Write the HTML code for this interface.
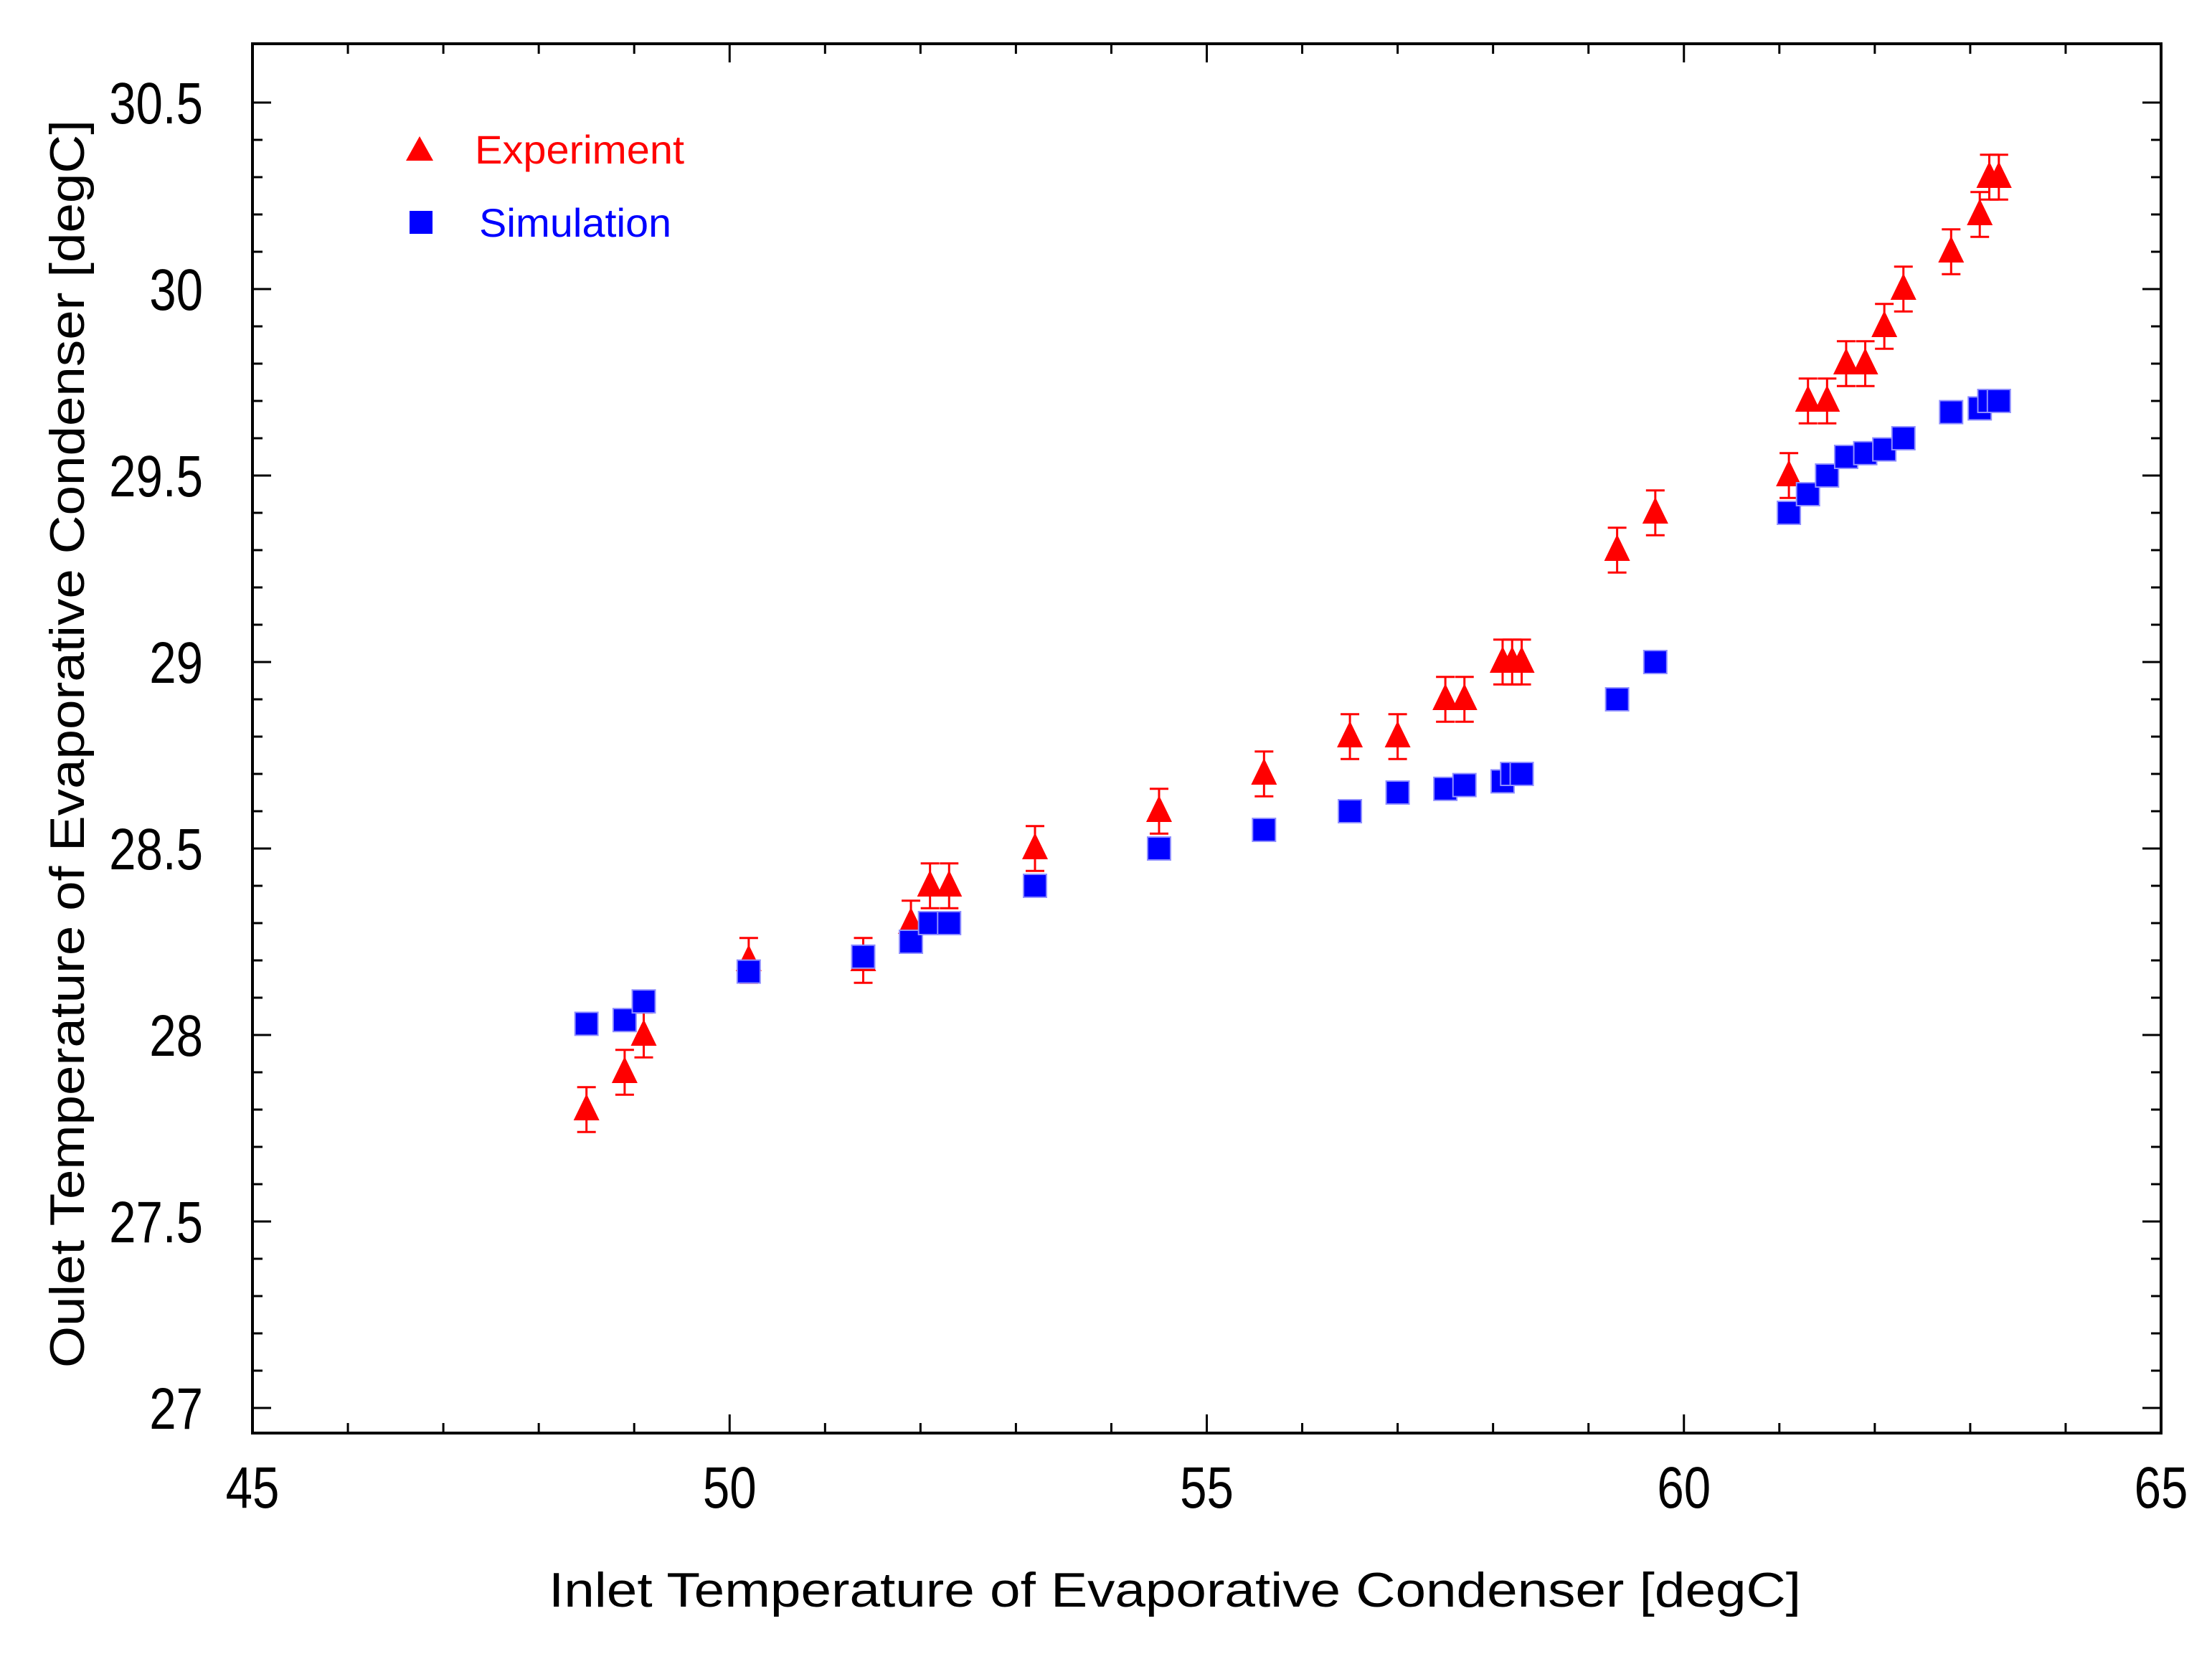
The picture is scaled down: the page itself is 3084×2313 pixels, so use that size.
<!DOCTYPE html>
<html><head><meta charset="utf-8"><style>
html,body{margin:0;padding:0;background:#fff;}
svg{display:block;font-family:"Liberation Sans",Arial,sans-serif;}
</style></head><body>
<svg id="chart" width="3084" height="2313" viewBox="0 0 3084 2313" xmlns="http://www.w3.org/2000/svg">
<rect x="0" y="0" width="3084" height="2313" fill="#fff"/>
<g id="ticks"></g>
<g id="marks"></g>
<rect x="352" y="61" width="2661" height="1937" fill="none" stroke="#000" stroke-width="4"/>
<g>
  <polygon points="585,190 604,224 566,224" fill="#ff0000"/>
  <text x="662" y="228" font-size="56" fill="#ff0000" textLength="292" lengthAdjust="spacingAndGlyphs">Experiment</text>
  <rect x="571" y="294" width="32" height="32" fill="#0000ff"/>
  <text x="668" y="330" font-size="56" fill="#0000ff" textLength="268" lengthAdjust="spacingAndGlyphs">Simulation</text>
</g>
<text x="1638" y="2240" font-size="68" text-anchor="middle" textLength="1746" lengthAdjust="spacingAndGlyphs">Inlet Temperature of Evaporative Condenser [degC]</text>
<text transform="translate(117,1037) rotate(-90)" font-size="68" text-anchor="middle" textLength="1740" lengthAdjust="spacingAndGlyphs">Oulet Temperature of Evaporative Condenser [degC]</text>
</svg>
<script>
const xTickLabels = ["45","50","55","60","65"];
const xTickValues = [45,50,55,60,65];
const yTickLabels = ["27","27.5","28","28.5","29","29.5","30","30.5"];
const yTickValues = [27,27.5,28,28.5,29,29.5,30,30.5];
const inletTemps = [48.5,48.9,49.1,50.2,51.4,51.9,52.1,52.3,53.2,54.5,55.6,56.5,57.0,57.5,57.7,58.1,58.2,58.3,59.3,59.7,61.1,61.3,61.5,61.7,61.9,62.1,62.3,62.8,63.1,63.2,63.3];
const experimentValues = [27.8,27.9,28.0,28.2,28.2,28.3,28.4,28.4,28.5,28.6,28.7,28.8,28.8,28.9,28.9,29.0,29.0,29.0,29.3,29.4,29.5,29.7,29.7,29.8,29.8,29.9,30.0,30.1,30.2,30.3,30.3];
const experimentError = [0.06,0.06,0.06,0.06,0.06,0.06,0.06,0.06,0.06,0.06,0.06,0.06,0.06,0.06,0.06,0.06,0.06,0.06,0.06,0.06,0.06,0.06,0.06,0.06,0.06,0.06,0.06,0.06,0.06,0.06,0.06];
const simulationValues = [28.03,28.04,28.09,28.17,28.21,28.25,28.30,28.30,28.40,28.50,28.55,28.60,28.65,28.66,28.67,28.68,28.70,28.70,28.90,29.00,29.40,29.45,29.50,29.55,29.56,29.57,29.60,29.67,29.68,29.70,29.70];

const NS="http://www.w3.org/2000/svg";
const L=352,R=3013,T=61,B=1998;
function xs(v){return L+(v-45)*(R-L)/20;}
function ys(v){return 143+(30.5-v)*(1963-143)/3.5;}
function mk(tag,attrs,parent){const e=document.createElementNS(NS,tag);for(const k in attrs)e.setAttribute(k,attrs[k]);parent.appendChild(e);return e;}
const tg=document.getElementById('ticks');
const svg=document.getElementById('chart');
for(let v=45;v<=65;v++){
  const major=(v%5===0);const len=major?26:14;const x=xs(v);
  let t=mk('line',{x1:x,y1:B,x2:x,y2:B-len,stroke:'#000','stroke-width':3},tg);
  
  
  t=mk('line',{x1:x,y1:T,x2:x,y2:T+len,stroke:'#000','stroke-width':3},tg);
  
  
}
xTickValues.forEach((v,i)=>{
  const t=mk('text',{x:0,y:0,'font-size':82,'text-anchor':'middle',transform:`translate(${xs(v)},2102) scale(0.82,1)`},svg);
  t.textContent=xTickLabels[i];
  
  
});
for(let k=0;k<=36;k++){
  const v=26.9+k*0.1; const y=ys(v); if(y<T||y>B)continue;
  const major=(Math.round(v*10)%5===0);const len=major?26:14;
  let t=mk('line',{x1:L,y1:y,x2:L+len,y2:y,stroke:'#000','stroke-width':3},tg);
  
  
  t=mk('line',{x1:R,y1:y,x2:R-len,y2:y,stroke:'#000','stroke-width':3},tg);
  
  
}
yTickValues.forEach((v,i)=>{
  const t=mk('text',{x:0,y:0,'font-size':82,'text-anchor':'end',transform:`translate(283,${ys(v)+29}) scale(0.82,1)`},svg);
  t.textContent=yTickLabels[i];
  
  
});
const mg=document.getElementById('marks');
inletTemps.forEach((xv,i)=>{
  const x=xs(xv),y=ys(experimentValues[i]);
  const yt=ys(experimentValues[i]+experimentError[i]),yb=ys(experimentValues[i]-experimentError[i]);
  const g=mk('g',{stroke:'#ff0000','stroke-width':3},mg);
  
  
  mk('line',{x1:x,y1:yt,x2:x,y2:yb},g);
  mk('line',{x1:x-13,y1:yt,x2:x+13,y2:yt},g);
  mk('line',{x1:x-13,y1:yb,x2:x+13,y2:yb},g);
  const p=mk('polygon',{points:`${x},${y-22} ${x+18},${y+15} ${x-18},${y+15}`,fill:'#ff0000'},mg);
  
  
});
inletTemps.forEach((xv,i)=>{
  const x=xs(xv),y=ys(simulationValues[i]);
  const r=mk('rect',{x:x-16,y:y-16,width:32,height:32,fill:'#0000ff',stroke:'#8f8fff','stroke-width':2},mg);
  
  
});
</script>
</body></html>
